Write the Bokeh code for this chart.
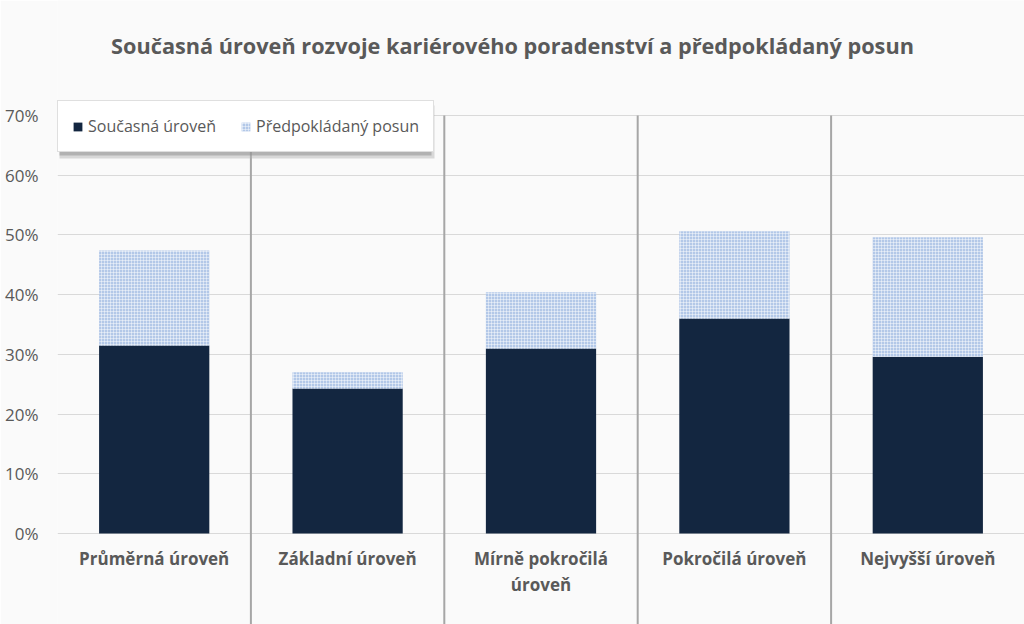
import numpy as np
from bokeh.plotting import figure
from bokeh.models import (Range1d, FixedTicker, NumeralTickFormatter, Legend, LegendItem,
                          Label, BoxAnnotation, ColumnDataSource)
from bokeh.core.properties import value
from bokeh.embed import file_html
from bokeh.resources import INLINE

# ---- data ----
categories = ["Průměrná úroveň", "Základní úroveň", "Mírně pokročilá\núroveň",
              "Pokročilá úroveň", "Nejvyšší úroveň"]
current_level = [0.315, 0.243, 0.310, 0.360, 0.296]
expected_shift = [0.159, 0.027, 0.094, 0.146, 0.200]
y_ticks = [0.0, 0.1, 0.2, 0.3, 0.4, 0.5, 0.6, 0.7]
title_text = "Současná úroveň rozvoje kariérového poradenství a předpokládaný posun"
series_names = ["Současná úroveň", "Předpokládaný posun"]

# ---- styling ----
FONT = "Open Sans"
GREY_TXT = "#595959"
DARK = "#132640"
LIGHT = "#b3c8e8"
BG = "#fafafa"
Y_START, Y_END = -0.1524, 0.8926

xpos = np.arange(len(categories)) + 0.5
totals = np.array(current_level) + np.array(expected_shift)

src = ColumnDataSource(dict(x=xpos, cur=current_level, tot=totals, lab=categories))

p = figure(width=1024, height=624, output_backend="svg", toolbar_location=None,
           x_range=Range1d(0, 5.0), y_range=Range1d(Y_START, Y_END),
           min_border_left=57, min_border_right=0, min_border_top=0, min_border_bottom=0)
p.background_fill_color = BG
p.border_fill_color = BG
p.outline_line_color = None

# grid
p.xgrid.visible = False
p.ygrid.ticker = FixedTicker(ticks=y_ticks)
p.ygrid.grid_line_color = "#d9d9d9"
p.ygrid.grid_line_width = 1

# axes
p.xaxis.visible = False
yax = p.yaxis[0]
yax.ticker = FixedTicker(ticks=y_ticks)
yax.formatter = NumeralTickFormatter(format="0%")
yax.axis_line_color = None
yax.major_tick_line_color = None
yax.minor_tick_line_color = None
yax.major_tick_out = 0
yax.major_tick_in = 0
yax.major_label_standoff = 19
yax.major_label_text_font = FONT
yax.major_label_text_font_size = "17px"
yax.major_label_text_color = GREY_TXT

# category separators
n = len(categories)
p.segment(x0=np.arange(1, n), y0=[y_ticks[-1]] * (n - 1),
          x1=np.arange(1, n), y1=[Y_START] * (n - 1),
          line_color="#a6a6a6", line_width=2)

# bars
r1 = p.vbar(x="x", bottom=0, top="cur", width=0.57, source=src,
            fill_color=DARK, line_color=None)
r2 = p.vbar(x="x", bottom="cur", top="tot", width=0.57, source=src,
            fill_color=LIGHT, line_color=None,
            hatch_pattern="cross", hatch_color="#ffffff", hatch_alpha=0.45,
            hatch_scale=3, hatch_weight=1)

# category labels
p.text(x="x", y=-0.0218, text="lab", source=src, text_align="center", text_baseline="top",
       text_font=value(FONT), text_font_style="bold", text_font_size="17px",
       text_color=GREY_TXT, text_line_height=1.15)

# title
p.add_layout(Label(x=455, y=579, x_units="screen", y_units="screen", text=title_text,
                   text_align="center", text_baseline="middle", text_font=FONT,
                   text_font_style="bold", text_font_size="21.7px", text_color=GREY_TXT))

# legend shadow (soft)
p.add_layout(BoxAnnotation(left=2, right=377, top=519, bottom=466,
                           left_units="screen", right_units="screen",
                           top_units="screen", bottom_units="screen",
                           fill_color="#b0b0b0", fill_alpha=0.45, line_color=None))
p.add_layout(BoxAnnotation(left=2, right=374, top=519, bottom=469,
                           left_units="screen", right_units="screen",
                           top_units="screen", bottom_units="screen",
                           fill_color="#8c8c8c", fill_alpha=0.5, line_color=None))

legend = Legend(items=[LegendItem(label=series_names[0], renderers=[r1]),
                       LegendItem(label=series_names[1], renderers=[r2])],
                location=(0, 472), orientation="horizontal",
                label_text_font=FONT, label_text_font_size="16px",
                label_text_color=GREY_TXT, glyph_width=11, glyph_height=11,
                label_standoff=5, spacing=24, padding=14, margin=0,
                background_fill_color="#ffffff", background_fill_alpha=1,
                border_line_color="#bfbfbf", border_line_width=1)
p.add_layout(legend, "center")

open("out.html", "w").write(file_html(p, INLINE))
